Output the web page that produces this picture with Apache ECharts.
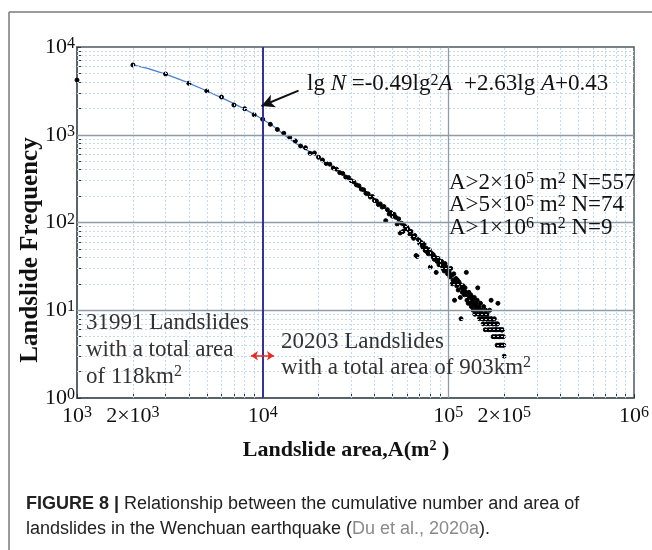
<!DOCTYPE html>
<html><head><meta charset="utf-8">
<script src="https://cdn.jsdelivr.net/npm/echarts@6/dist/echarts.min.js"></script>
<style>html,body{margin:0;padding:0;background:#fff}#c{width:652px;height:550px}</style>
</head><body><div id="c"></div>
<script>
// ---------- data ----------
// landslide area bins, in thousands of m^2
const areaK = [1,
  2,3,4,5,6,7,8,9,10,
  11,12,13,14,15,16,17,18,19,20,
  21,22,23,24,25,26,27,28,29,30,
  31,32,33,34,35,36,37,38,39,40,
  41,42,43,44,45,46,47,48,49,50,
  51,52,53,54,55,56,57,58,59,60,
  61,62,63,64,65,66,67,68,69,70,
  71,72,73,74,75,76,77,78,79,80,
  81,82,83,84,85,86,87,88,89,90,
  91,92,93,94,95,96,97,98,99,100,
  101,102,103,104,105,106,107,108,109,110,
  111,112,113,114,115,116,117,118,119,120,
  121,122,123,124,125,126,127,128,129,130,
  131,132,133,134,135,136,137,138,139,140,
  141,142,143,144,145,146,147,148,149,150,
  151,152,153,154,155,156,157,158,159,160,
  161,162,163,164,165,166,167,168,169,170,
  171,172,173,174,175,176,177,178,179,180,
  181,182,183,184,185,186,187,188,189,190,
  191,192,193,194,195,196,197,198,199,200];
// landslide frequency for each bin
const freq = [4200,
  6240,4920,3860,3150,2690,2180,1980,1690,1500,
  1315,1150,1040,935,850,745,712,615,620,553,
  515,470,462,418,405,370,362,330,325,300,
  290,268,262,240,236,215,212,195,198,178,
  176,160,163,150,152,105,140,125,130,118,
  124,115,96,110,76,98,79,92,84,88,
  82,74,79,70,66,71,42,41,64,58,
  60,55,52,57,48,51,46,44,49,31,
  45,41,43,38,40,27,36,39,33,36,
  33,36,30,32,28,34,29,31,26,28,
  27,24,30,25,20,22,26,13,21,23,
  19,22,17,21,20,14,8,18,16,19,
  17,15,18,16,27,13,15,12,16,14,
  12,15,11,14,13,10,12,14,9,11,
  12,10,13,18,9,11,8,10,12,9,
  10,8,9,7,11,8,9,6,10,8,
  7,9,8,6,8,7,10,6,8,13,
  8,6,7,5,7,6,8,5,6,7,
  5,6,4,7,12,5,6,4,5,6,
  4,5,6,4,5,6,4,5,4,3];
// fitted curve, points
const fitArea = [2000, 3000, 5000, 10000, 15000, 20000, 30000, 50000, 70000, 100000, 150000, 196000];
const fitFreq = [6240, 4920, 3150, 1500, 805, 553, 305, 122, 60, 28, 10, 5.5];
// ticks
const xTickValues = [1e3, 2e3, 1e4, 1e5, 2e5, 1e6];
const xTickMant = ['', '2×', '', '', '2×', ''];
const xTickExp = ['3', '3', '4', '5', '5', '6'];
const yTickValues = [1, 10, 100, 1000, 10000];
const yTickExp = ['0', '1', '2', '3', '4'];
const splitArea = 10000;

// ---------- chart ----------
const serif = 'Liberation Serif';
const decX = [1e3, 1e4, 1e5], decY = [1, 10, 100, 1000];
const minorX = [], minorY = [];
decX.forEach(d => { for (let m = 2; m <= 9; m++) minorX.push(m * d); });
decY.forEach(d => { for (let m = 2; m <= 9; m++) minorY.push(m * d); });
const tickAllX = xTickValues.concat(minorX);
const tickAllY = yTickValues.concat(minorY);

function findIdx(arr, v) {
  for (let i = 0; i < arr.length; i++) if (Math.abs(arr[i] - v) / arr[i] < 1e-6) return i;
  return -1;
}
const supRich = { s: { fontSize: 16, fontFamily: serif, color: '#111', verticalAlign: 'top' } };

const chart = echarts.init(document.getElementById('c'), null, { renderer: 'canvas' });
const option = {
  animation: false,
  backgroundColor: '#fff',
  grid: { left: 77, right: 15, top: 47, bottom: 152, show: true, borderColor: '#4d5a60', borderWidth: 1.5, backgroundColor: '#fff' },
  xAxis: {
    type: 'log', logBase: 10, min: 1000, max: 1e6,
    axisLine: { show: true, lineStyle: { color: '#4d5a60', width: 1.5 } },
    axisTick: { show: true, inside: true, length: 4, customValues: tickAllX, lineStyle: { color: '#333' } },
    axisLabel: {
      customValues: xTickValues, margin: 7,
      fontFamily: serif, fontSize: 22, color: '#111', rich: supRich,
      formatter: v => { const i = findIdx(xTickValues, v); return i < 0 ? '' : xTickMant[i] + '10{s|' + xTickExp[i] + '}'; }
    },
    splitLine: { show: false }
  },
  yAxis: {
    type: 'log', logBase: 10, min: 1, max: 10000,
    axisLine: { show: true, lineStyle: { color: '#4d5a60', width: 1.5 } },
    axisTick: { show: true, inside: true, length: 4, customValues: tickAllY, lineStyle: { color: '#333' } },
    axisLabel: {
      customValues: yTickValues, margin: 2,
      fontFamily: serif, fontSize: 22, color: '#111', rich: supRich,
      formatter: v => { const i = findIdx(yTickValues, v); return i < 0 ? '' : '10{s|' + yTickExp[i] + '}'; }
    },
    splitLine: { show: false }
  },
  series: [
    { // minor grid
      type: 'scatter', data: [], z: 1, silent: true,
      markLine: { silent: true, symbol: ['none', 'none'], label: { show: false },
        lineStyle: { color: '#c4daee', width: 1, type: [2, 2] },
        data: minorX.map(v => ({ xAxis: v })).concat(minorY.map(v => ({ yAxis: v }))) }
    },
    { // major grid
      type: 'scatter', data: [], z: 1, silent: true,
      markLine: { silent: true, symbol: ['none', 'none'], label: { show: false },
        lineStyle: { color: '#8f9ca6', width: 1.3, type: 'solid' },
        data: [{ xAxis: 1e5 }, { yAxis: 10 }, { yAxis: 100 }, { yAxis: 1000 }] }
    },
    { // split line at 10^4
      type: 'scatter', data: [], z: 2, silent: true,
      markLine: { silent: true, symbol: ['none', 'none'], label: { show: false },
        lineStyle: { color: '#33339a', width: 2, type: 'solid' },
        data: [{ xAxis: splitArea }] }
    },
    {
      type: 'line', z: 3, smooth: true, showSymbol: false,
      data: fitArea.map((a, i) => [a, fitFreq[i]]),
      lineStyle: { color: '#4a7fd4', width: 1.3 },
      markLine: { silent: true, label: { show: false },
        data: [
          [{ coord: [15600, 3180], symbol: 'none' }, { coord: [9850, 2128], symbol: 'arrow', symbolSize: [10, 13] , lineStyle: { color: '#111', width: 2 } }],
          [{ coord: [8650, 3.03], symbol: 'arrow', symbolSize: [7, 7] }, { coord: [11500, 3.03], symbol: 'arrow', symbolSize: [7, 7], lineStyle: { color: '#e52b20', width: 1.5 } }]
        ],
        lineStyle: { type: 'solid' } }
    },
    {
      type: 'scatter', z: 4,
      data: areaK.map((a, i) => [a * 1000, freq[i]]),
      symbol: 'circle', symbolSize: 4,
      itemStyle: { color: '#000', borderColor: '#000', borderWidth: 1, opacity: 1 }
    }
  ],
  graphic: [
    { type: 'line', shape: { x1: 9, y1: 12, x2: 652, y2: 12 }, style: { stroke: '#7a7a7a', lineWidth: 1.5 } },
    { type: 'line', shape: { x1: 9, y1: 12, x2: 9, y2: 550 }, style: { stroke: '#7a7a7a', lineWidth: 1.5 } },
    { type: 'text', x: 346, y: 450, style: { text: 'Landslide area,A(m{s|2} )', fontFamily: serif, fontSize: 22, fontWeight: 'bold', fill: '#111', align: 'center', verticalAlign: 'middle',
        rich: { s: { fontSize: 14, fontFamily: serif, fontWeight: 'bold', fill: '#111', verticalAlign: 'top' } } } },
    { type: 'text', x: 31, y: 250, rotation: Math.PI / 2, style: { text: 'Landslide Frequency', fontFamily: serif, fontSize: 25, fontWeight: 'bold', fill: '#111', align: 'center', verticalAlign: 'middle' } },
    { type: 'text', x: 307, y: 84, z: 10, style: { text: 'lg {i|N} =-0.49lg{s|2}{i|A}  +2.63lg {i|A}+0.43', fontFamily: serif, fontSize: 23, fill: '#111', align: 'left', verticalAlign: 'middle',
        rich: { i: { fontStyle: 'italic', fontFamily: serif, fontSize: 23, fill: '#111' }, s: { fontSize: 16, fontFamily: serif, fill: '#111', verticalAlign: 'top' } } } },
    { type: 'text', x: 449, y: 205, z: 10, style: { text: 'A>2×10{s|5} m{s|2} N=557\nA>5×10{s|5} m{s|2} N=74\nA>1×10{s|6} m{s|2} N=9', fontFamily: serif, fontSize: 23, lineHeight: 22.5, fill: '#111', align: 'left', verticalAlign: 'middle',
        rich: { s: { fontSize: 16, fontFamily: serif, fill: '#111', verticalAlign: 'top' } } } },
    { type: 'text', x: 86, y: 350, z: 10, style: { text: '31991 Landslides\nwith a total area\nof 118km{s|2}', fontFamily: serif, fontSize: 23, lineHeight: 27.3, fill: '#333', align: 'left', verticalAlign: 'middle',
        rich: { s: { fontSize: 16, fontFamily: serif, fill: '#333', verticalAlign: 'top' } } } },
    { type: 'text', x: 281, y: 355, z: 10, style: { text: '20203 Landslides\nwith a total area of 903km{s|2}', fontFamily: serif, fontSize: 23, lineHeight: 25.5, fill: '#333', align: 'left', verticalAlign: 'middle',
        rich: { s: { fontSize: 16, fontFamily: serif, fill: '#333', verticalAlign: 'top' } } } },
    { type: 'text', x: 26, y: 504, style: { text: '{b|FIGURE 8 |} Relationship between the cumulative number and area of', fontFamily: 'Liberation Sans', fontSize: 18, fill: '#222', align: 'left', verticalAlign: 'middle',
        rich: { b: { fontWeight: 'bold', fontFamily: 'Liberation Sans', fontSize: 18, fill: '#222' } } } },
    { type: 'text', x: 26, y: 529, style: { text: 'landslides in the Wenchuan earthquake ({g|Du et al., 2020a}).', fontFamily: 'Liberation Sans', fontSize: 18, fill: '#222', align: 'left', verticalAlign: 'middle',
        rich: { g: { fontFamily: 'Liberation Sans', fontSize: 18, fill: '#8a8a8a' } } } }
  ]
};
chart.setOption(option);
</script>
</body></html>
